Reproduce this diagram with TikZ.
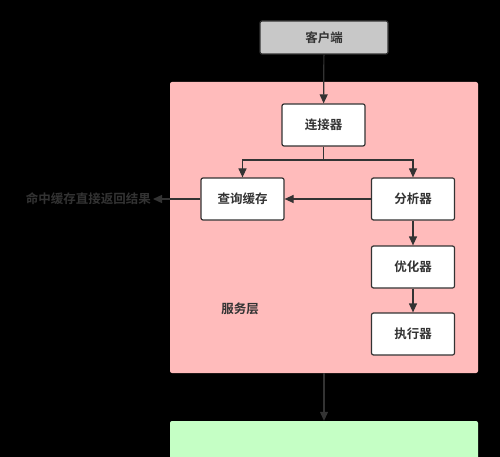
\documentclass[tikz,border=0pt]{standalone}
\usepackage{fontspec}
\newfontfamily\cjk{Noto Sans CJK SC}[BoldFont={Noto Sans CJK SC Bold}]
\usetikzlibrary{arrows.meta}
\definecolor{edge}{HTML}{333333}
\definecolor{svc}{HTML}{FFBBBB}
\definecolor{stor}{HTML}{C5FFC5}
\definecolor{cli}{HTML}{C8C8C8}
\tikzset{
  lbl/.style={font=\cjk\bfseries\fontsize{12.5pt}{14pt}\selectfont, text=edge},
  box/.style={lbl, draw=edge, line width=1.2pt, rounded corners=2pt, fill=white, minimum width=83pt, minimum height=42pt},
  conn/.style={draw=edge, line width=1.2pt, -{Triangle[length=9pt,width=8pt]}},
}
\begin{document}
\begin{tikzpicture}[x=1pt,y=-1pt]
\fill[black] (0,0) rectangle (500,457);
\useasboundingbox (0,0) rectangle (500,457);
\node[box, fill=cli, minimum width=128pt, minimum height=33pt] (client) at (324,37.5) {客户端};
\node[draw=none, fill=svc, rounded corners=2pt, minimum width=308pt, minimum height=291pt, inner sep=0pt] (svc) at (324,227.5) {};
\node[draw=none, fill=stor, rounded corners=2pt, minimum width=308pt, minimum height=60pt, inner sep=0pt] (store) at (324,451) {};
\node[box] (conn) at (323.5,125) {连接器};
\node[box] (cache) at (242.5,199) {查询缓存};
\node[box] (parse) at (413,199) {分析器};
\node[box] (opt) at (413,267) {优化器};
\node[box] (exec) at (413,334) {执行器};
\node[lbl] (svclabel) at (240,309) {服务层};
\node[lbl, anchor=east, inner sep=2pt] (hit) at (153,199) {命中缓存直接返回结果};
\coordinate (split) at (323.5,160);
\draw[conn] (client) -- (conn);
\draw[conn] (conn.south) -- (split) -| (cache.north);
\draw[conn] (split) -| (parse.north);
\draw[conn] (parse) -- (cache);
\draw[conn] (cache.west) -- (hit.east);
\draw[conn] (parse) -- (opt);
\draw[conn] (opt) -- (exec);
\draw[conn] (svc.south) -- (store.north);
\end{tikzpicture}
\end{document}
